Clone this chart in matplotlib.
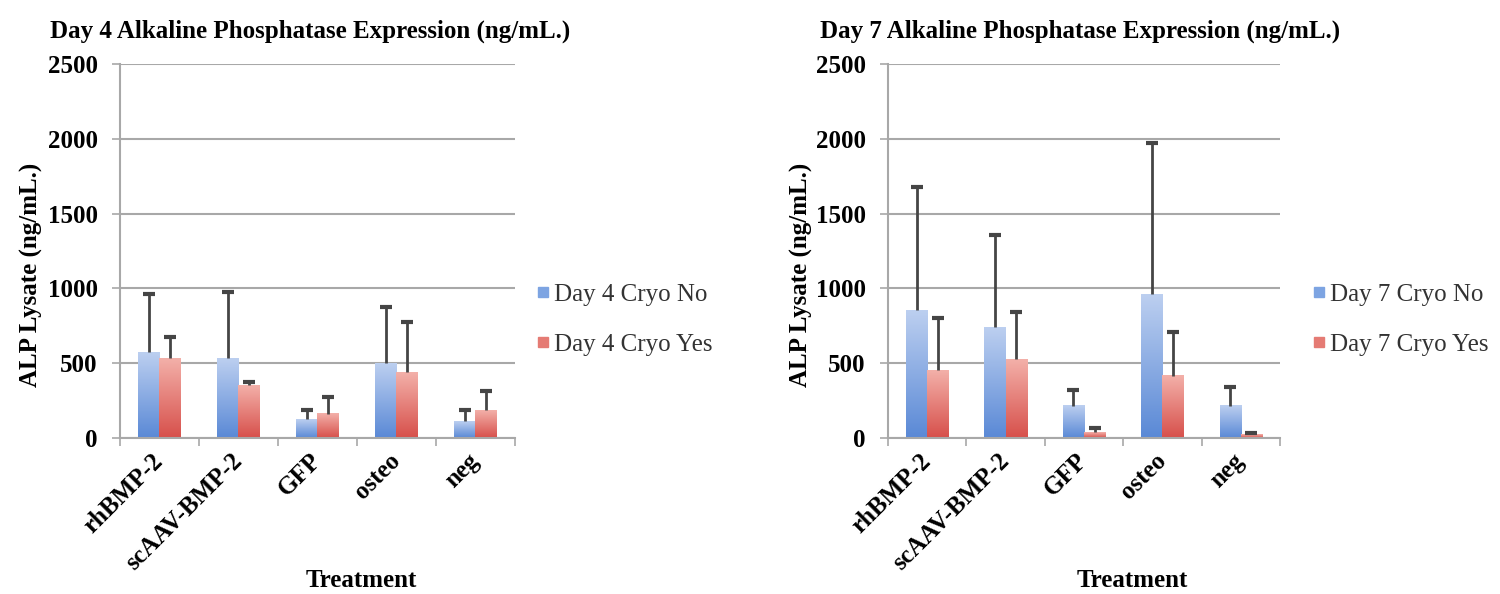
import numpy as np
import matplotlib
matplotlib.use("Agg")
import matplotlib.pyplot as plt
from matplotlib.colors import LinearSegmentedColormap
from matplotlib.lines import Line2D

treatments = ["rhBMP-2", "scAAV-BMP-2", "GFP", "osteo", "neg"]

day4_no = [572, 534, 124, 501, 113]
day4_no_err = [388, 443, 65, 377, 76]
day4_yes = [532, 352, 162, 439, 184]
day4_yes_err = [144, 20, 109, 339, 129]

day7_no = [855, 739, 217, 962, 217]
day7_no_err = [821, 618, 105, 1013, 123]
day7_yes = [452, 528, 38, 416, 25]
day7_yes_err = [347, 311, 26, 293, 10]

yticks = [0, 500, 1000, 1500, 2000, 2500]

plt.rcParams['font.family'] = ['Liberation Serif', 'DejaVu Serif']

blue_cmap = LinearSegmentedColormap.from_list("b", ["#5a89d6", "#bccff0"])
red_cmap = LinearSegmentedColormap.from_list("r", ["#d7504b", "#f3b0a9"])
grid_col = "#a8a8a8"
err_col = "#454545"
grad = np.linspace(0, 1, 100).reshape(-1, 1)


def gradient_bars(ax, bars, cmap):
    for b in bars:
        x0 = b.get_x()
        x1 = x0 + b.get_width()
        h = b.get_height()
        ax.imshow(grad, extent=[x0, x1, 0, h], origin="lower", aspect="auto",
                  cmap=cmap, zorder=2)


def upper_err(ax, xs, vals, errs):
    zeros = [0] * len(xs)
    eb = ax.errorbar(xs, vals, yerr=[zeros, errs], fmt="none", ecolor=err_col,
                     elinewidth=2, capsize=4, capthick=3, zorder=3)
    # hide the lower caps, only the upper half is drawn in the original
    eb[1][0].set_visible(False)


def panel(ax, no, no_err, yes, yes_err, day):
    x = np.arange(len(treatments))
    w = 0.27
    b1 = ax.bar(x - w / 2, no, w, color="none", zorder=2)
    b2 = ax.bar(x + w / 2, yes, w, color="none", zorder=2)
    gradient_bars(ax, b1, blue_cmap)
    gradient_bars(ax, b2, red_cmap)
    upper_err(ax, x - w / 2, no, no_err)
    upper_err(ax, x + w / 2, yes, yes_err)

    ax.set_xlim(-0.5, len(x) - 0.5)
    ax.set_ylim(0, 2500)
    ax.set_yticks(yticks)
    ax.set_yticklabels([str(t) for t in yticks], fontsize=18, fontweight="bold")
    ax.yaxis.grid(True, color=grid_col, linewidth=1.5, zorder=0)
    ax.set_axisbelow(True)

    ax.set_xticks(np.arange(-0.5, len(x), 1.0))
    ax.set_xticklabels([])
    ax.set_xticks(x, minor=True)
    ax.set_xticklabels(treatments, minor=True, rotation=45, ha="right", va="center",
                       rotation_mode="anchor", fontsize=18, fontweight="bold")
    ax.tick_params(axis="x", which="minor", length=0, pad=14)
    ax.tick_params(axis="x", which="major", length=6, width=1.2, color=grid_col, direction="out")
    ax.tick_params(axis="y", length=6, width=1.2, color=grid_col, pad=10)

    for s in ["top", "right"]:
        ax.spines[s].set_visible(False)
    for s in ["left", "bottom"]:
        ax.spines[s].set_color(grid_col)
        ax.spines[s].set_linewidth(1.5)

    handles = [Line2D([], [], marker="s", linestyle="none", markersize=7, color="#7da4e2"),
               Line2D([], [], marker="s", linestyle="none", markersize=7, color="#e57b74")]
    labels = ["Day %d Cryo No" % day, "Day %d Cryo Yes" % day]
    return handles, labels


fig = plt.figure(figsize=(15, 5.94), dpi=100)
ax1 = fig.add_axes([0.08, 0.2626, 0.2633, 0.6297])
ax2 = fig.add_axes([0.592, 0.2626, 0.2613, 0.6297])

h1, l1 = panel(ax1, day4_no, day4_no_err, day4_yes, day4_yes_err, 4)
h2, l2 = panel(ax2, day7_no, day7_no_err, day7_yes, day7_yes_err, 7)

for h, l, xa in [(h1, l1, 0.358), (h2, l2, 0.875)]:
    leg = fig.legend(h, l, loc="center left", bbox_to_anchor=(xa, 0.462), frameon=False,
                     fontsize=18, handlelength=0.5, handletextpad=0.2, labelspacing=1.1,
                     borderpad=0, borderaxespad=0)
    for t in leg.get_texts():
        t.set_color("#333333")

fig.text(0.0333, 0.936, "Day 4 Alkaline Phosphatase Expression (ng/mL.)", fontsize=18,
         fontweight="bold", va="baseline", ha="left")
fig.text(0.5467, 0.936, "Day 7 Alkaline Phosphatase Expression (ng/mL.)", fontsize=18,
         fontweight="bold", va="baseline", ha="left")

fig.text(0.021, 0.537, "ALP Lysate (ng/mL.)", rotation=90, fontsize=18, fontweight="bold",
         ha="center", va="center")
fig.text(0.534, 0.537, "ALP Lysate (ng/mL.)", rotation=90, fontsize=18, fontweight="bold",
         ha="center", va="center")

fig.text(0.241, 0.012, "Treatment", fontsize=18, fontweight="bold", ha="center", va="baseline")
fig.text(0.755, 0.012, "Treatment", fontsize=18, fontweight="bold", ha="center", va="baseline")

fig.savefig("out.png", dpi=100, facecolor="white")
